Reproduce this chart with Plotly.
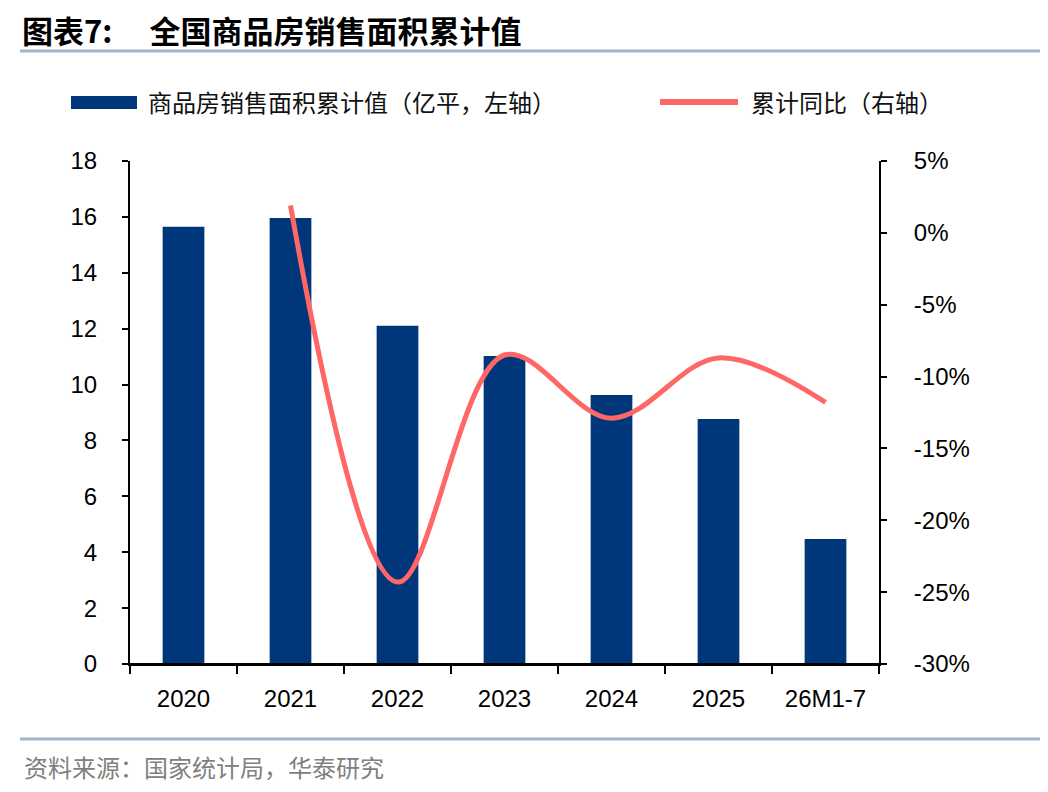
import plotly.graph_objects as go

# Data
categories = ["2020", "2021", "2022", "2023", "2024", "2025", "26M1-7"]
sales_area = [15.65, 15.96, 12.10, 11.02, 9.63, 8.77, 4.47]     # 亿平, left axis
yoy_pct = [None, 1.9, -24.3, -8.5, -12.9, -8.7, -11.8]          # %, right axis

left_ticks = [0, 2, 4, 6, 8, 10, 12, 14, 16, 18]
right_ticks = [-30, -25, -20, -15, -10, -5, 0, 5]
right_labels = [f"{v}%" for v in right_ticks]

bar_color = "#00377A"
line_color = "#FF6666"
rule_color = "#9FB6CE"
num_font = "Liberation Sans, Arial, sans-serif"
cjk_font = "Noto Sans CJK SC, sans-serif"

# page has an 8px body margin; work in page pixels and convert
OFF = 8
W, H = 1048 - OFF, 792 - OFF
plot_l, plot_r, plot_t, plot_b = 130, 879, 161, 664   # page pixels
L, T = plot_l - OFF, plot_t - OFF
R, B = W - (plot_r - OFF), H - (plot_b - OFF)
pw, ph = plot_r - plot_l, plot_b - plot_t


def px(x):
    return (x - plot_l) / pw


def py(y):
    return (plot_b - y) / ph


fig = go.Figure()

fig.add_trace(go.Bar(x=categories, y=sales_area, name="商品房销售面积累计值（亿平，左轴）",
                     marker=dict(color=bar_color, line=dict(width=0)),
                     showlegend=False))

fig.add_trace(go.Scatter(x=categories, y=yoy_pct, name="累计同比（右轴）", yaxis="y2",
                         mode="lines", line=dict(color=line_color, width=5, shape="spline",
                                                 smoothing=1.0),
                         connectgaps=False, showlegend=False, cliponaxis=False))

# Hand-drawn legend
fig.add_shape(type="rect", xref="paper", yref="paper", x0=px(71), x1=px(137),
              y0=py(109), y1=py(96), fillcolor=bar_color, line=dict(width=0))
fig.add_shape(type="line", xref="paper", yref="paper", x0=px(660), x1=px(738),
              y0=py(102), y1=py(102), line=dict(color=line_color, width=6))

annotations = [
    dict(text="商品房销售面积累计值（亿平，左轴）", x=px(146), y=py(102)),
    dict(text="累计同比（右轴）", x=px(749), y=py(102)),
]
for a in annotations:
    fig.add_annotation(xref="paper", yref="paper", xanchor="left", yanchor="middle",
                       showarrow=False, font=dict(family=cjk_font, size=24, color="#111111"), **a)

# Source note
fig.add_annotation(text="资料来源：国家统计局，华泰研究", xref="paper", yref="paper",
                   x=px(22), y=py(766), xanchor="left", yanchor="middle", showarrow=False,
                   font=dict(family=cjk_font, size=24, color="#808080"))

# Rules above and below the chart
for yy in (51, 739):
    fig.add_shape(type="line", xref="paper", yref="paper", x0=px(20), x1=px(1040),
                  y0=py(yy), y1=py(yy), line=dict(color=rule_color, width=3))

# x axis baseline runs a little past both y axes
fig.add_shape(type="line", xref="paper", yref="paper", x0=px(123), x1=px(887),
              y0=0, y1=0, line=dict(color="black", width=2))

fig.update_layout(
    width=W, height=H,
    margin=dict(l=L, r=R, t=T, b=B),
    plot_bgcolor="white", paper_bgcolor="white",
    title=dict(text="<b>图表7:\u2003\u2009全国商品房销售面积累计值</b>", x=(22 - OFF) / W,
               y=1 - (32 - OFF) / H, xanchor="left", yanchor="middle",
               font=dict(family=cjk_font, size=31, color="#000000")),
    bargap=0.61,
    showlegend=False,
    xaxis=dict(type="category", showline=True, linecolor="black", linewidth=2,
               ticks="outside", tickson="boundaries", ticklen=8, tickwidth=2,
               tickcolor="black", showgrid=False, ticklabelstandoff=12,
               tickfont=dict(family=num_font, size=24, color="black")),
    yaxis=dict(range=[0, 18], tickvals=left_ticks, showline=True, linecolor="black",
               linewidth=2, ticks="outside", ticklen=6, tickwidth=2, tickcolor="black",
               showgrid=False, zeroline=False, ticklabelstandoff=20,
               tickfont=dict(family=num_font, size=24, color="black")),
    yaxis2=dict(range=[-30, 5], tickvals=right_ticks, ticktext=right_labels, overlaying="y",
                side="right", showline=True, linecolor="black", linewidth=2,
                ticks="outside", ticklen=6, tickwidth=2, tickcolor="black",
                showgrid=False, zeroline=False, ticklabelstandoff=22,
                tickfont=dict(family=num_font, size=24, color="black")),
)

fig.write_html("out.html")
